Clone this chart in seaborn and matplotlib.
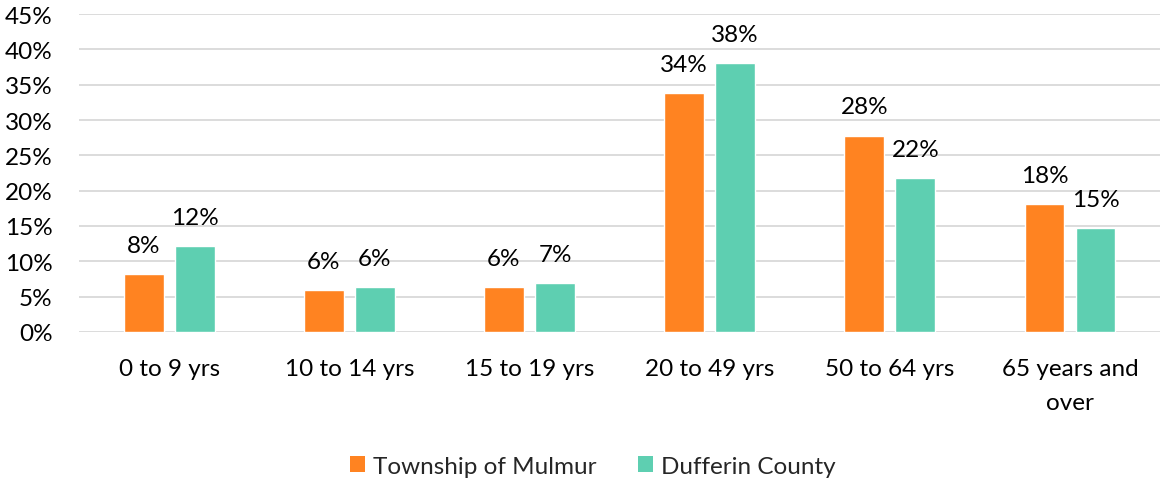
import matplotlib
matplotlib.use("Agg")
import matplotlib.pyplot as plt
import seaborn as sns
import pandas as pd
from matplotlib.patches import Patch

categories = ["0 to 9 yrs", "10 to 14 yrs", "15 to 19 yrs", "20 to 49 yrs", "50 to 64 yrs", "65 years and\nover"]
series_names = ["Township of Mulmur", "Dufferin County"]
mulmur = [8.2, 6.0, 6.3, 33.8, 27.8, 18.1]
dufferin = [12.1, 6.4, 6.9, 38.1, 21.8, 14.7]
colors = ["#FF8321", "#5ECFB1"]
yticks = [0, 5, 10, 15, 20, 25, 30, 35, 40, 45]

sns.set_theme(style="white")
plt.rcParams["font.family"] = ["Lato", "DejaVu Sans"]

FS = 17.5

df = pd.DataFrame({
    "cat": categories * 2,
    "series": [series_names[0]] * len(categories) + [series_names[1]] * len(categories),
    "val": mulmur + dufferin,
})

fig = plt.figure(figsize=(11.64, 4.81), dpi=100)
ax = fig.add_axes([0.068, 0.3077, 0.9286, 0.6611])

sns.barplot(data=df, x="cat", y="val", hue="series", palette=colors,
            width=0.567, gap=0.22, ax=ax, legend=False, errorbar=None,
            saturation=1)

ax.set_ylim(0, 45)
ax.set_xlim(-0.5, len(categories) - 0.5)
ax.set_yticks(yticks)
ax.set_yticklabels([f"{t}%" for t in yticks], fontsize=FS, color="#000000")
ax.set_xticks(range(len(categories)))
ax.set_xticklabels(categories, fontsize=FS, color="#000000", linespacing=1.75)
ax.tick_params(axis="both", length=0)
ax.tick_params(axis="x", pad=19)
ax.tick_params(axis="y", pad=19)
ax.set_xlabel("")
ax.set_ylabel("")
ax.grid(axis="y", color="#D9D9D9", linewidth=1.3)
ax.set_axisbelow(True)
for s in ax.spines.values():
    s.set_visible(False)

for cont in ax.containers:
    ax.bar_label(cont, labels=[f"{v:.0f}%" for v in cont.datavalues],
                 padding=13, fontsize=FS, color="#000000")

handles = [Patch(facecolor=c, edgecolor="none") for c in colors]
fig.legend(handles, series_names, loc="center", bbox_to_anchor=(0.509, 0.029),
           ncol=2, frameon=False, fontsize=FS, handlelength=0.65, handleheight=0.65,
           handletextpad=0.3, columnspacing=1.7)

fig.savefig("out.png", dpi=100)
